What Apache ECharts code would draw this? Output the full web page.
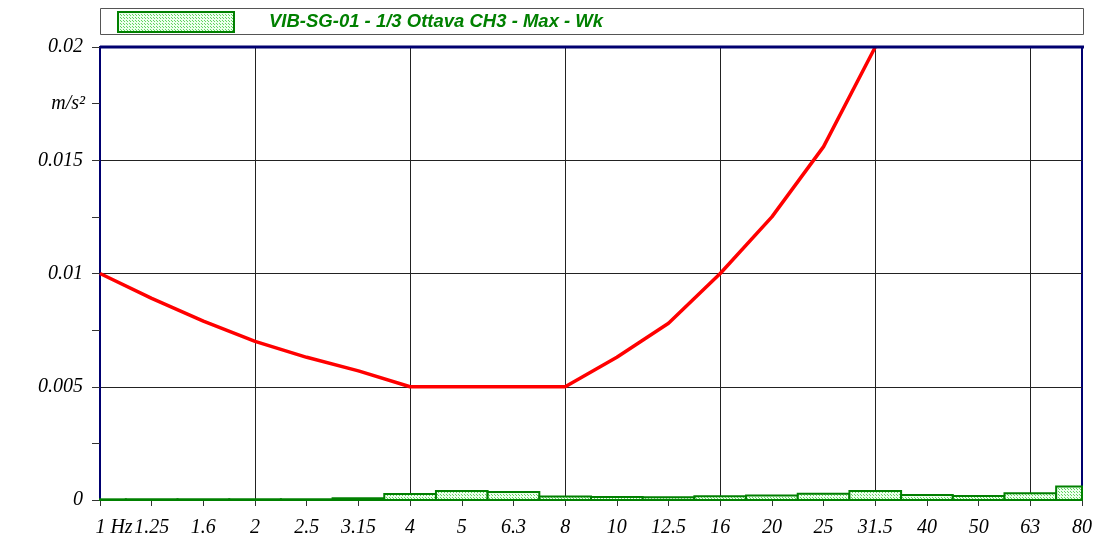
<!DOCTYPE html>
<html><head><meta charset="utf-8">
<script src="https://cdn.jsdelivr.net/npm/echarts@6/dist/echarts.min.js"></script>
<style>html,body{margin:0;padding:0;background:#fff}#c{width:1095px;height:550px}</style>
</head><body><div id="c"></div>
<script>
const categories = ['1','1.25','1.6','2','2.5','3.15','4','5','6.3','8','10','12.5','16','20','25','31.5','40','50','63','80'];
const measured = [0.00003,0.00003,0.00003,0.00003,0.00003,0.00008,0.00026,0.0004,0.00035,0.00016,0.00013,0.00012,0.00017,0.0002,0.00028,0.0004,0.00022,0.00018,0.0003,0.0006];
const limitWk = [0.01,0.0089,0.0079,0.007,0.0063,0.0057,0.005,0.005,0.005,0.005,0.0063,0.0078,0.01,0.0125,0.0156,0.02,null,null,null,null];
const seriesName = 'VIB-SG-01 - 1/3 Ottava CH3 - Max - Wk';
const yTicks = {0:'0',0.005:'0.005',0.01:'0.01',0.015:'0.015',0.02:'0.02'};

const pc = document.createElement('canvas'); pc.width = 3; pc.height = 3;
const px = pc.getContext('2d');
px.fillStyle = '#ecffec'; px.fillRect(0,0,3,3);
px.fillStyle = '#5fd35f'; px.fillRect(0,0,1,1); px.fillRect(2,2,1,1);
const fillPattern = {image:pc,repeat:'repeat'};

const serif = '"Liberation Serif","Times New Roman",serif';
const chart = echarts.init(document.getElementById('c'), null, {renderer:'canvas'});
chart.setOption({
  animation:false,
  grid:{left:100,right:12,top:47,bottom:50,show:true,borderColor:'#000070',borderWidth:2,backgroundColor:'transparent'},
  graphic:[{type:'rect',left:100,top:8,shape:{width:983,height:26},style:{fill:'#fff',stroke:'#555',lineWidth:1},z:-1},
           {type:'line',shape:{x1:100,y1:47,x2:1084,y2:47},style:{stroke:'#000070',lineWidth:3},z:10}],
  legend:{data:[{name:seriesName,icon:'rect'}],left:117,top:11,itemWidth:116,itemHeight:20,itemGap:0,padding:0,
    itemStyle:{color:fillPattern,borderColor:'#008000',borderWidth:2},
    textStyle:{color:'#008000',fontFamily:'"Liberation Sans",Arial,sans-serif',fontWeight:'bold',fontStyle:'italic',fontSize:18.5,padding:[0,0,2,30]}},
  xAxis:{type:'category',data:categories,boundaryGap:false,
    axisLine:{lineStyle:{color:'#000070',width:1}},
    axisTick:{show:true,length:6,interval:0,lineStyle:{color:'#333'}},
    axisLabel:{interval:0,margin:18,color:'#000',fontFamily:serif,fontStyle:'italic',fontSize:20,
      formatter:(v,i)=> i===0 ? '{f|1 Hz}' : v,
      rich:{f:{fontFamily:serif,fontStyle:'italic',fontSize:20,color:'#000',padding:[0,0,0,28]}}},
    splitLine:{show:true,interval:(i)=> i%3===0,lineStyle:{color:'#222',width:1}}},
  yAxis:[{type:'value',min:0,max:0.02,interval:0.005,
    axisLine:{show:true,lineStyle:{color:'#000070',width:2}},
    axisTick:{show:true,length:8,lineStyle:{color:'#333'}},
    axisLabel:{margin:17,color:'#000',fontFamily:serif,fontStyle:'italic',fontSize:20,
      formatter:(v)=> yTicks[Math.round(v*1000)/1000] ?? ''},
    splitLine:{show:true,lineStyle:{color:'#222',width:1}}},
   {type:'value',min:0,max:0.02,interval:0.0025,position:'left',
    axisLine:{show:false},splitLine:{show:false},
    axisTick:{show:true,length:8,lineStyle:{color:'#333'}},
    axisLabel:{margin:15,color:'#000',fontFamily:serif,fontStyle:'italic',fontSize:20,
      formatter:(v)=> Math.abs(v-0.0175)<1e-6 ? 'm/s²' : ''}}],
  series:[
    {name:seriesName,type:'custom',data:measured.map((v,i)=>[i,v]),z:3,
     renderItem:(params,api)=>{
       const top = api.coord([api.value(0), api.value(1)]);
       const base = api.coord([api.value(0), 0]);
       const w = api.size([1,0])[0];
       const r = echarts.graphic.clipRectByRect({x:top[0]-w/2,y:top[1],width:w,height:base[1]-top[1]},
         {x:params.coordSys.x,y:params.coordSys.y,width:params.coordSys.width,height:params.coordSys.height});
       if(!r) return;
       return {type:'rect',shape:r,style:{fill:fillPattern,stroke:'#008000',lineWidth:2}};
     },
     itemStyle:{color:fillPattern,borderColor:'#008000',borderWidth:2}},
    {name:'Wk',type:'line',data:limitWk,symbol:'none',clip:true,
     lineStyle:{color:'#ff0000',width:3.5},z:4}
  ]
});
</script></body></html>
